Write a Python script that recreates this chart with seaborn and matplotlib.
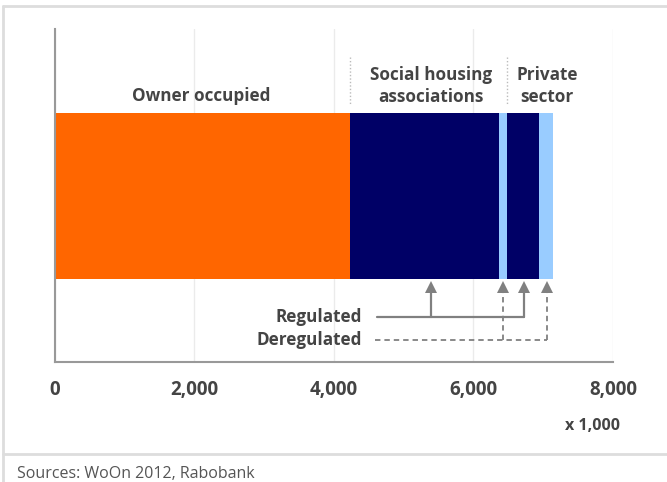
import matplotlib
matplotlib.use("Agg")
import matplotlib.pyplot as plt
from matplotlib.ticker import StrMethodFormatter
from matplotlib.lines import Line2D
import seaborn as sns
import numpy as np
import pandas as pd

# Dutch housing stock by segment (x 1,000 dwellings)
segments = ["Owner occupied", "Social regulated", "Social deregulated",
            "Private regulated", "Private deregulated"]
values = [4230, 2136, 114, 459, 206]
colors = ["#FF6600", "#000066", "#99CCFF", "#000066", "#99CCFF"]

x_ticks = [0, 2000, 4000, 6000, 8000]
group_labels = [["Owner occupied"], ["Social housing", "associations"], ["Private", "sector"]]
group_label_x = [2108, 5390, 7054]
regulated_arrows_x = [5390, 6720]
deregulated_arrows_x = [6430, 7060]

sns.set_theme(style="white")
plt.rcParams["font.family"] = ["Open Sans", "DejaVu Sans"]

TEXT = "#444444"
GREY = "#808080"

fig = plt.figure(figsize=(6.67, 4.82), dpi=100)
ax = fig.add_axes([54.5 / 667, 1 - 362 / 482, (613 - 54.5) / 667, (362 - 29) / 482])

# stacked horizontal bar: draw cumulative totals from the largest down
cum = np.cumsum(values)
df = pd.DataFrame({"segment": segments, "cum": cum, "row": ["stock"] * len(segments)})
for i in range(len(segments) - 1, -1, -1):
    sns.barplot(data=df.iloc[[i]], x="cum", y="row", orient="h", color=colors[i],
                saturation=1, width=1, linewidth=0, ax=ax, zorder=2)

ax.set_xlim(0, 8000)
ax.set_ylim(1.0, -1.006)
ax.set_xlabel("")
ax.set_ylabel("")
ax.set_xticks(x_ticks)
ax.xaxis.set_major_formatter(StrMethodFormatter("{x:,.0f}"))
ax.set_yticks([-1.006, 1.0])
ax.set_yticklabels([])

ax.xaxis.grid(True, color="#ebebeb", lw=1, zorder=0)
ax.set_axisbelow(True)
for s in ["top", "right"]:
    ax.spines[s].set_visible(False)
for s in ["left", "bottom"]:
    ax.spines[s].set_color("#999999")
    ax.spines[s].set_linewidth(1.5)
ax.tick_params(axis="x", direction="out", length=4.5, width=1.2, color="#999999",
               pad=8.5, labelsize=13.5, labelcolor=TEXT)
ax.tick_params(axis="y", direction="out", length=5, width=1.2, color="#999999")
for lbl in ax.get_xticklabels():
    lbl.set_fontweight("bold")

# group labels above the bar
for lines, gx in zip(group_labels, group_label_x):
    if len(lines) == 1:
        ax.text(gx, -0.574, lines[0], ha="center", va="baseline", fontsize=12.3,
                fontweight="bold", color=TEXT)
    else:
        ax.text(gx, -0.701, lines[0], ha="center", va="baseline", fontsize=12.3,
                fontweight="bold", color=TEXT)
        ax.text(gx, -0.568, lines[1], ha="center", va="baseline", fontsize=12.3,
                fontweight="bold", color=TEXT)

# dotted dividers between the ownership groups
for bx in [cum[0], cum[2]]:
    ax.plot([bx, bx], [-0.837, -0.548], ls=(0, (1, 1.5)), color="#bbbbbb", lw=1, zorder=1)

# regulated / deregulated pointers
y_tip = 0.551
y_base = 0.582
y_reg = 0.729
y_dereg = 0.867
ax.plot([4616, max(regulated_arrows_x)], [y_reg, y_reg], color=GREY, lw=1.6, zorder=3)
for axx in regulated_arrows_x:
    ax.plot([axx, axx], [y_reg, y_base], color=GREY, lw=1.6, zorder=3)
    ax.plot([axx], [y_tip], marker="^", ms=8.3, color=GREY, mew=0, zorder=3)
ax.plot([4588, max(deregulated_arrows_x)], [y_dereg, y_dereg], color=GREY, lw=1.3,
        ls=(0, (3, 2.2)), zorder=3)
for axx in deregulated_arrows_x:
    ax.plot([axx, axx], [y_dereg, y_base], color=GREY, lw=1.3, ls=(0, (3, 2.2)), zorder=3)
    ax.plot([axx], [y_tip], marker="^", ms=8.3, color=GREY, mew=0, zorder=3)

ax.text(4400, y_reg, "Regulated", ha="right", va="center", fontsize=12.3,
        fontweight="bold", color=TEXT)
ax.text(4400, y_dereg, "Deregulated", ha="right", va="center", fontsize=12.3,
        fontweight="bold", color=TEXT)

# unit note
fig.text(620 / 667, 1 - 430 / 482, "x 1,000", ha="right", va="baseline", fontsize=11.5,
         fontweight="bold", color=TEXT)

# panel frame and source line
frame = "#dddddd"
fig.add_artist(Line2D([3 / 667, 1], [1 - 6 / 482, 1 - 6 / 482], color=frame, lw=2))
fig.add_artist(Line2D([3 / 667, 3 / 667], [0, 1 - 6 / 482], color=frame, lw=2))
fig.add_artist(Line2D([3 / 667, 1], [1 - 454 / 482, 1 - 454 / 482], color=frame, lw=2))
fig.text(17 / 667, 1 - 477.5 / 482, "Sources: WoOn 2012, Rabobank", ha="left",
         va="baseline", fontsize=11.5, color="#555555")

fig.savefig("out.png", dpi=100)
